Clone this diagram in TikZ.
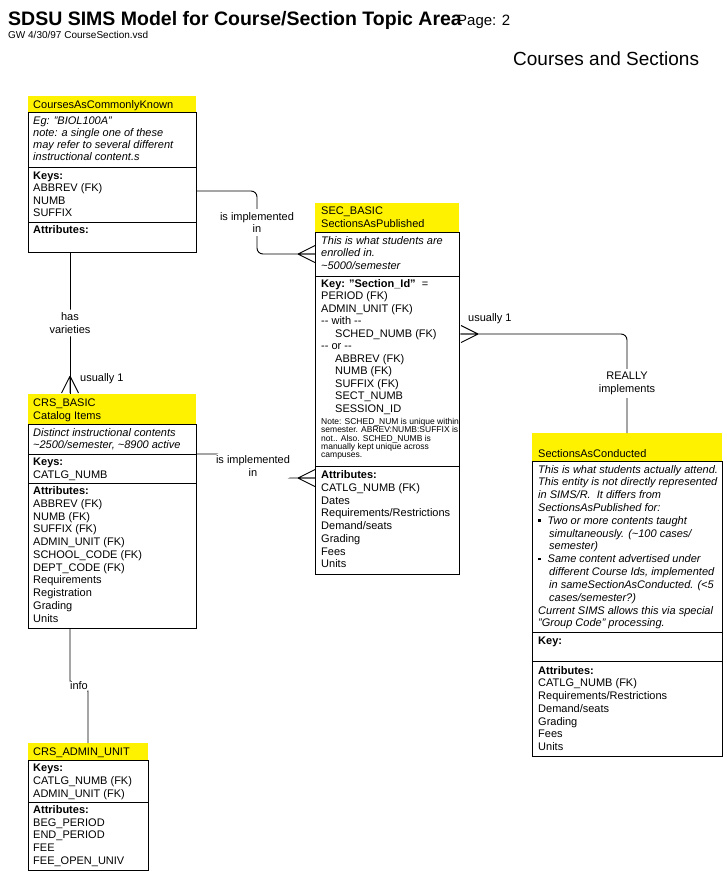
\documentclass[tikz,border=0pt]{standalone}
\usepackage{fontspec}
\setmainfont{Liberation Sans}

\tikzset{
  crowfoot/.pic={\draw[line width=0.9pt] (0,0) -- (17,-8.5) (0,0) -- (17,0) (0,0) -- (17,8.5);}
}

\begin{document}
\begin{tikzpicture}[x=1pt,y=-1pt,
    cell/.style={draw,line width=0.9pt,anchor=north west,inner sep=0pt,outer sep=0pt},
    head/.style={fill=yellow,anchor=north west,inner sep=0pt,outer sep=0pt},
    txt/.style={anchor=base west,inner sep=0pt,font=\fontsize{11}{13}\selectfont},
    desc/.style={txt,font=\fontsize{11}{13}\selectfont\itshape},
    kw/.style={txt,font=\fontsize{11}{13}\selectfont\bfseries},
    small/.style={txt,font=\fontsize{8.5}{9}\selectfont},
    rel/.style={fill=white,inner xsep=1pt,inner ysep=3pt,align=center,font=\fontsize{11}{12.8}\selectfont},
    link/.style={line width=0.9pt,rounded corners=6pt}]

\fill[white] (0,0) rectangle (727,873);

% titles
\node[anchor=base west,inner sep=0pt,font=\fontsize{19.5}{20}\selectfont\bfseries] (title) at (8,25) {SDSU SIMS Model for Course/Section Topic Area};
\node[anchor=base west,inner sep=0pt,font=\fontsize{15}{16}\selectfont] (page) at (457,25) {Page: 2};
\node[anchor=base west,inner sep=0pt,font=\fontsize{10}{11}\selectfont] (file) at (8,38) {GW 4/30/97 CourseSection.vsd};
\node[anchor=base west,inner sep=0pt,font=\fontsize{19}{20}\selectfont] (topic) at (513,65) {Courses and Sections};

% CoursesAsCommonlyKnown
\node[head,minimum width=168,minimum height=16] (cakHead) at (28,96) {};
\node[txt] (cakName) at (33,108) {CoursesAsCommonlyKnown};
\node[cell,minimum width=168,minimum height=55] (cakDesc) at (28,112) {};
\node[cell,minimum width=168,minimum height=55] (cakKeys) at (28,167) {};
\node[cell,minimum width=168,minimum height=30] (cakAttr) at (28,222) {};
\foreach \t [count=\i from 0] in {Eg: "BIOL100A", note: a single one of these, may refer to several different, instructional content.s}
  \node[desc] (cakD\i) at (33,124+12.3*\i) {\t};
\node[kw] (cakK) at (33,179) {Keys:};
\foreach \t [count=\i from 0] in {ABBREV (FK), NUMB, SUFFIX}
  \node[txt] (cakK\i) at (33,191.5+12.5*\i) {\t};
\node[kw] (cakA) at (33,233) {Attributes:};

% SEC_BASIC
\node[head,minimum width=144,minimum height=29] (secHead) at (315,203) {};
\node[txt] (secName) at (321,214) {SEC\_BASIC};
\node[txt] (secAlias) at (321,227) {SectionsAsPublished};
\node[cell,minimum width=144,minimum height=44] (secDesc) at (315,232) {};
\node[cell,minimum width=144,minimum height=190] (secKey) at (315,276) {};
\node[cell,minimum width=144,minimum height=108] (secAttr) at (315,466) {};
\foreach \t [count=\i from 0] in {This is what students are, enrolled in., \textasciitilde5000/semester}
  \node[desc] (secD\i) at (321,244.5+12.4*\i) {\t};
\node[txt] (secK) at (321,287) {{\bfseries Key: "Section\_Id"}\ \ =};
\foreach \dx/\t [count=\i from 0] in {0/PERIOD (FK), 0/ADMIN\_UNIT (FK), 0/-{}- with -{}-, 14/SCHED\_NUMB (FK), 0/-{}- or -{}-, 14/ABBREV (FK), 14/NUMB (FK), 14/SUFFIX (FK), 14/SECT\_NUMB, 14/SESSION\_ID}
  \node[txt] (secK\i) at (321+\dx,299.5+12.5*\i) {\t};
\foreach \t [count=\i from 0] in {Note: SCHED\_NUM is unique within, semester. ABREV:NUMB:SUFFIX is, not.. Also. SCHED\_NUMB is, manually kept unique across, campuses.}
  \node[small] (secN\i) at (321,424.5+8.3*\i) {\t};
\node[kw] (secA) at (321,478.5) {Attributes:};
\foreach \t [count=\i from 0] in {CATLG\_NUMB (FK), Dates, Requirements/Restrictions, Demand/seats, Grading, Fees, Units}
  \node[txt] (secA\i) at (321,491.25+12.75*\i) {\t};

% CRS_BASIC
\node[head,minimum width=168,minimum height=30] (crsHead) at (28,394) {};
\node[txt] (crsName) at (33,406.5) {CRS\_BASIC};
\node[txt] (crsAlias) at (33,419) {Catalog Items};
\node[cell,minimum width=168,minimum height=30] (crsDesc) at (28,424) {};
\node[cell,minimum width=168,minimum height=29] (crsKeys) at (28,454) {};
\node[cell,minimum width=168,minimum height=145] (crsAttr) at (28,483) {};
\foreach \t [count=\i from 0] in {Distinct instructional contents, {\textasciitilde2500/semester, \textasciitilde8900 active}}
  \node[desc] (crsD\i) at (33,436+12.5*\i) {\t};
\node[kw] (crsK) at (33,465) {Keys:};
\node[txt] (crsK0) at (33,478) {CATLG\_NUMB};
\node[kw] (crsA) at (33,494.5) {Attributes:};
\foreach \t [count=\i from 0] in {ABBREV (FK), NUMB (FK), SUFFIX (FK), ADMIN\_UNIT (FK), SCHOOL\_CODE (FK), DEPT\_CODE (FK), Requirements, Registration, Grading, Units}
  \node[txt] (crsA\i) at (33,507.25+12.75*\i) {\t};

% SectionsAsConducted
\node[head,minimum width=190,minimum height=28] (sacHead) at (532,433) {};
\node[txt] (sacName) at (538,457) {SectionsAsConducted};
\node[cell,minimum width=190,minimum height=171] (sacDesc) at (532,461) {};
\node[cell,minimum width=190,minimum height=29] (sacKey) at (532,632) {};
\node[cell,minimum width=190,minimum height=95] (sacAttr) at (532,661) {};
\foreach \t [count=\i from 0] in {This is what students actually attend., This entity is not directly represented, in SIMS/R.\ \ It differs from, SectionsAsPublished for:,
    \rule[2.5pt]{2.6pt}{2.6pt}\hspace{6.9pt}Two or more contents taught, \hspace{11pt}simultaneously. (\textasciitilde100 cases/, \hspace{11pt}semester),
    \rule[2.5pt]{2.6pt}{2.6pt}\hspace{6.9pt}Same content advertised under, {\hspace{11pt}different Course Ids, implemented}, \hspace{11pt}in sameSectionAsConducted. (<5, \hspace{11pt}cases/semester?),
    Current SIMS allows this via special, "Group Code" processing.}
  \node[desc] (sacD\i) at (538,473+12.83*\i) {\t};
\node[kw] (sacK) at (538,644) {Key:};
\node[kw] (sacA) at (538,674) {Attributes:};
\foreach \t [count=\i from 0] in {CATLG\_NUMB (FK), Requirements/Restrictions, Demand/seats, Grading, Fees, Units}
  \node[txt] (sacA\i) at (538,686.75+12.75*\i) {\t};

% CRS_ADMIN_UNIT
\node[head,minimum width=120,minimum height=17] (cauHead) at (28,743) {};
\node[txt] (cauName) at (33,755) {CRS\_ADMIN\_UNIT};
\node[cell,minimum width=120,minimum height=42] (cauKeys) at (28,760) {};
\node[cell,minimum width=120,minimum height=68] (cauAttr) at (28,802) {};
\node[kw] (cauK) at (33,771) {Keys:};
\foreach \t [count=\i from 0] in {CATLG\_NUMB (FK), ADMIN\_UNIT (FK)}
  \node[txt] (cauK\i) at (33,784+13*\i) {\t};
\node[kw] (cauA) at (33,813) {Attributes:};
\foreach \t [count=\i from 0] in {BEG\_PERIOD, END\_PERIOD, FEE, FEE\_OPEN\_UNIV}
  \node[txt] (cauA\i) at (33,826+12.75*\i) {\t};

% relationships
\draw[link] ([yshift=3.5pt]cakKeys.east) -| node[rel,pos=0.75] (implA) {is implemented\\in} ([xshift=-58pt]secDesc.west) -- (secDesc.west);
\pic at ([xshift=-17pt]secDesc.west) {crowfoot};

\draw[link] ([xshift=-42pt]cakAttr.south) -- node[rel] (varieties) {has\\varieties} ([xshift=-42pt]crsHead.north);
\pic[rotate=-90] at ([xshift=-42pt,yshift=18pt]crsHead.north) {crowfoot};
\node[txt] (usuallyA) at (80,381) {usually 1};

\draw[link] (crsDesc.south east) -| node[rel,pos=0.75] (implB) {is implemented\\in} ([xshift=-62pt,yshift=42pt]secAttr.west) -- ([yshift=42pt]secAttr.west);
\pic at ([xshift=-17pt,yshift=42pt]secAttr.west) {crowfoot};

\draw[link] ([yshift=37pt]secKey.east) -| node[rel,pos=0.75] (really) {REALLY\\implements} (sacHead.north);
\pic[rotate=180] at ([xshift=19pt,yshift=37pt]secKey.east) {crowfoot};
\node[txt] (usuallyB) at (468,321) {usually 1};

\draw[link] ([xshift=-42pt]crsAttr.south) -- ++(0,58) -| node[rel,pos=0.25] (info) {info} (cauHead.north);

\end{tikzpicture}
\end{document}
